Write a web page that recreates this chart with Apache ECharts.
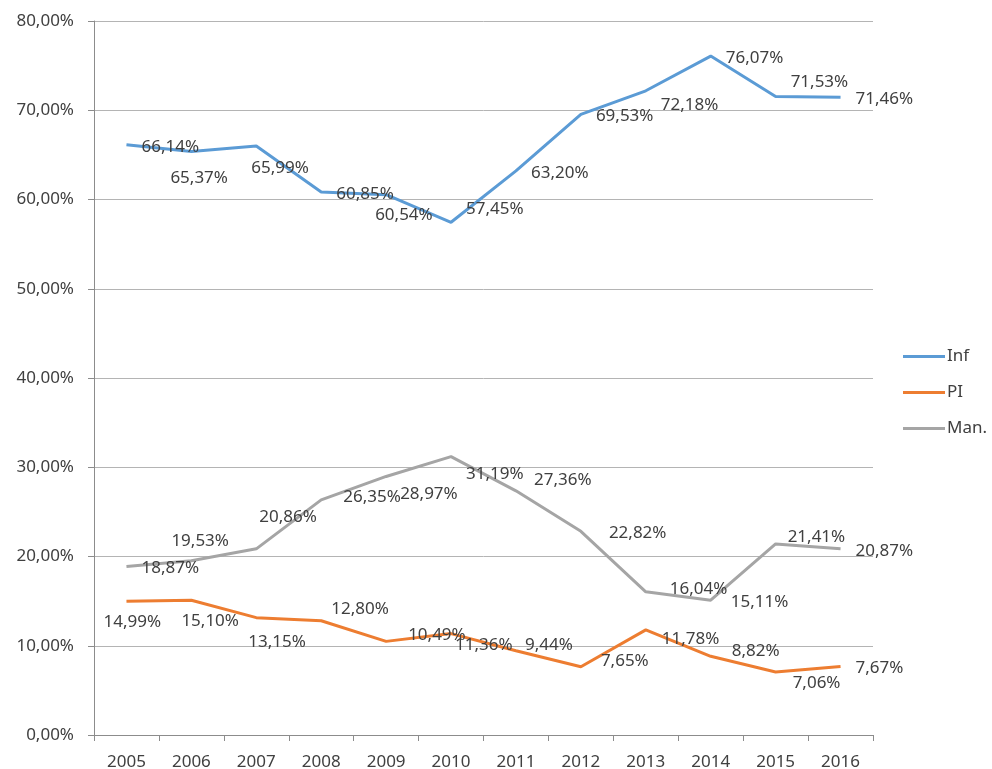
<!DOCTYPE html>
<html>
<head>
<meta charset="utf-8">
<script src="https://cdn.jsdelivr.net/npm/echarts@6/dist/echarts.min.js"></script>
<style>
html,body{margin:0;padding:0;background:#fff;}
#chart{width:992px;height:769px;}
</style>
</head>
<body>
<div id="chart"></div>
<script>
const years = ['2005','2006','2007','2008','2009','2010','2011','2012','2013','2014','2015','2016'];
const infValues = [66.14, 65.37, 65.99, 60.85, 60.54, 57.45, 63.20, 69.53, 72.18, 76.07, 71.53, 71.46];
const piValues = [14.99, 15.10, 13.15, 12.80, 10.49, 11.36, 9.44, 7.65, 11.78, 8.82, 7.06, 7.67];
const manValues = [18.87, 19.53, 20.86, 26.35, 28.97, 31.19, 27.36, 22.82, 16.04, 15.11, 21.41, 20.87];
const yTicks = [0, 10, 20, 30, 40, 50, 60, 70, 80];

// label placement offsets (layout only)
const infOffsets = [[0,2],[-36,27],[-20,22],[0,2],[-26,20],[0,-13],[0,2],[0,2],[0,14],[0,2],[0,-14],[0,2]];
const piOffsets = [[-38,21],[-25,21],[-23,25],[-5,-12],[7,-6],[-11,12],[-6,-6],[5,-6],[1,9],[6,-5],[2,11],[0,2]];
const manOffsets = [[0,2],[-35,-20],[-12,-32],[7,-3],[-1,18],[0,18],[3,-11],[13,2],[9,-3],[5,2],[-3,-7],[0,2]];

const fmt = v => v.toFixed(2).replace('.', ',') + '%';
const FONT = 'Noto Sans';
const FS = 17;

function mkSeries(name, vals, offs, color) {
  return {
    name: name,
    type: 'line',
    data: vals,
    symbol: 'circle',
    symbolSize: 0.01,
    showSymbol: true,
    lineStyle: { color: color, width: 3 },
    itemStyle: { color: color },
    label: {
      show: true,
      position: 'right',
      distance: 15,
      color: '#404040',
      fontFamily: FONT,
      fontSize: FS,
      formatter: p => fmt(p.value)
    },
    labelLayout: p => ({ dx: offs[p.dataIndex][0], dy: offs[p.dataIndex][1], hideOverlap: false }),
    emphasis: { disabled: true },
    animation: false
  };
}

const chart = echarts.init(document.getElementById('chart'));
chart.setOption({
  animation: false,
  backgroundColor: '#ffffff',
  grid: { left: 94, right: 119, top: 21, bottom: 34, containLabel: false, outerBoundsMode: 'none' },
  legend: {
    orient: 'vertical',
    left: 898,
    top: 343,
    itemWidth: 42,
    itemHeight: 3,
    itemGap: 19,
    icon: 'rect',
    textStyle: { color: '#404040', fontFamily: FONT, fontSize: FS, padding: [0,0,0,-3] },
    data: ['Inf', 'PI', 'Man.']
  },
  xAxis: {
    type: 'category',
    data: years,
    boundaryGap: true,
    axisLine: { lineStyle: { color: '#8C8C8C', width: 1 } },
    axisTick: { show: true, alignWithLabel: false, length: 6, lineStyle: { color: '#8C8C8C' } },
    axisLabel: { color: '#404040', fontFamily: FONT, fontSize: FS, margin: 19 },
    splitLine: { show: false }
  },
  yAxis: {
    type: 'value',
    min: yTicks[0],
    max: yTicks[yTicks.length - 1],
    interval: 10,
    axisLine: { show: true, lineStyle: { color: '#8C8C8C', width: 1 } },
    axisTick: { show: true, length: 6, lineStyle: { color: '#8C8C8C' } },
    axisLabel: { color: '#404040', fontFamily: FONT, fontSize: FS, margin: 20, formatter: v => fmt(v) },
    splitLine: { show: true, lineStyle: { color: '#B4B4B4', width: 1 } }
  },
  series: [
    mkSeries('Inf', infValues, infOffsets, '#5B9BD5'),
    mkSeries('PI', piValues, piOffsets, '#ED7D31'),
    mkSeries('Man.', manValues, manOffsets, '#A5A5A5')
  ]
});
</script>
</body>
</html>
